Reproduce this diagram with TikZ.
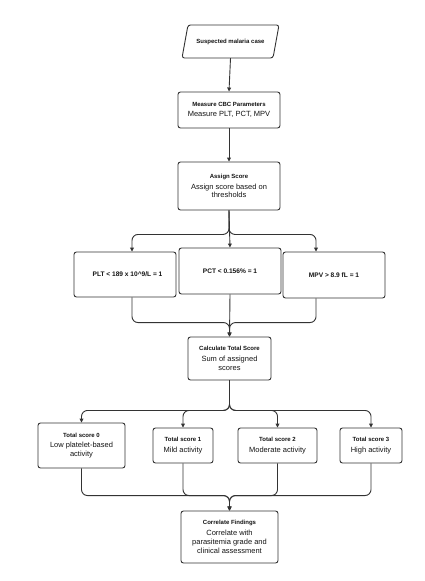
\documentclass[tikz,border=0pt]{standalone}
\usepackage{fontspec}
\setmainfont{Liberation Sans}
\usetikzlibrary{arrows.meta,calc}
\definecolor{linec}{HTML}{333333}
\definecolor{txtc}{HTML}{141414}
\newcommand{\boxtitle}[1]{{\fontsize{6}{7}\selectfont\bfseries #1}}
\begin{document}
\begin{tikzpicture}[x=1pt,y=-1pt,
  box/.style={draw=linec, line width=0.9pt, rounded corners=2.5pt, fill=white,
    align=center, inner sep=1pt, text=txtc,
    font=\fontsize{7.5}{8.8}\selectfont},
  conn/.style={draw=linec, line width=0.9pt, rounded corners=6pt},
  arr/.style={conn, -{Triangle[length=4pt,width=3.8pt]}}]
\useasboundingbox[fill=white] (0,0) rectangle (424,581);

% start parallelogram
\draw[draw=linec, line width=0.9pt, rounded corners=2.5pt, fill=white]
  (188,25) -- (279,25) -- (273,58) -- (182,58) -- cycle;
\node[minimum width=90pt, minimum height=33pt, inner sep=0pt, text=txtc] (start) at (230.5,41.5)
  {\boxtitle{Suspected malaria case}};

\node[box, minimum width=102pt, minimum height=36pt] (measure) at (229,110)
  {\boxtitle{Measure CBC Parameters}\\[1.5pt] Measure PLT, PCT, MPV};
\node[box, minimum width=102pt, minimum height=48pt] (assign) at (229,186)
  {\boxtitle{Assign Score}\\[2pt] Assign score based on\\ thresholds};

\node[box, minimum width=102pt, minimum height=45pt] (plt) at (125,274.5)
  {\hspace*{5pt}\fontsize{6.6}{8}\selectfont\bfseries PLT < 189 x 10\^{}9/L = 1};
\node[box, minimum width=102pt, minimum height=46pt] (pct) at (230,271)
  {\fontsize{6.6}{8}\selectfont\bfseries PCT < 0.156\% = 1};
\node[box, minimum width=102pt, minimum height=46pt] (mpv) at (334,275)
  {\fontsize{6.6}{8}\selectfont\bfseries MPV > 8.9 fL = 1};

\node[box, minimum width=83pt, minimum height=43pt] (calc) at (229.5,358.5)
  {\boxtitle{Calculate Total Score}\\[2pt] Sum of assigned\\ scores};

\node[box, minimum width=87pt, minimum height=45pt] (s0) at (81.5,445.5)
  {\boxtitle{Total score 0}\\[2pt] Low platelet-based\\ activity};
\node[box, minimum width=60pt, minimum height=35pt] (s1) at (183,445.5)
  {\boxtitle{Total score 1}\\[2pt] Mild activity};
\node[box, minimum width=79pt, minimum height=35pt] (s2) at (277.5,445.5)
  {\boxtitle{Total score 2}\\[2pt] Moderate activity};
\node[box, minimum width=62pt, minimum height=35pt] (s3) at (371,445.5)
  {\boxtitle{Total score 3}\\[2pt] High activity};

\node[box, minimum width=97pt, minimum height=52pt] (corr) at (229.5,537)
  {\boxtitle{Correlate Findings}\\[2pt] Correlate with\\ parasitemia grade and\\ clinical assessment};

% connectors
\draw[arr] (start.south) -- (measure.north);
\draw[arr] (measure.south) -- (assign.north);

\draw[arr] (assign.south) -- ++(0,24) -| ($(plt.north)+(7,0)$);
\draw[arr] (assign.south) -- (pct.north);
\draw[arr] (assign.south) -- ++(0,24) -| ($(mpv.north)+(-18,0)$);

\draw[arr] ($(plt.south)+(7,0)$) |- ($(calc.north)+(0,-14)$) -- (calc.north);
\draw[arr] (pct.south) -- (calc.north);
\draw[arr] ($(mpv.south)+(-18,0)$) |- ($(calc.north)+(0,-14)$) -- (calc.north);

\draw[arr] (calc.south) -- ++(0,30) -| (s0.north);
\draw[arr] (calc.south) -- ++(0,30) -| (s1.north);
\draw[arr] (calc.south) -- ++(0,30) -| (s2.north);
\draw[arr] (calc.south) -- ++(0,30) -| (s3.north);

\draw[arr] (s0.south) |- ($(corr.north)+(0,-15)$) -- (corr.north);
\draw[arr] (s1.south) |- ($(corr.north)+(0,-15)$) -- (corr.north);
\draw[arr] (s2.south) |- ($(corr.north)+(0,-15)$) -- (corr.north);
\draw[arr] (s3.south) |- ($(corr.north)+(0,-15)$) -- (corr.north);
\end{tikzpicture}
\end{document}
